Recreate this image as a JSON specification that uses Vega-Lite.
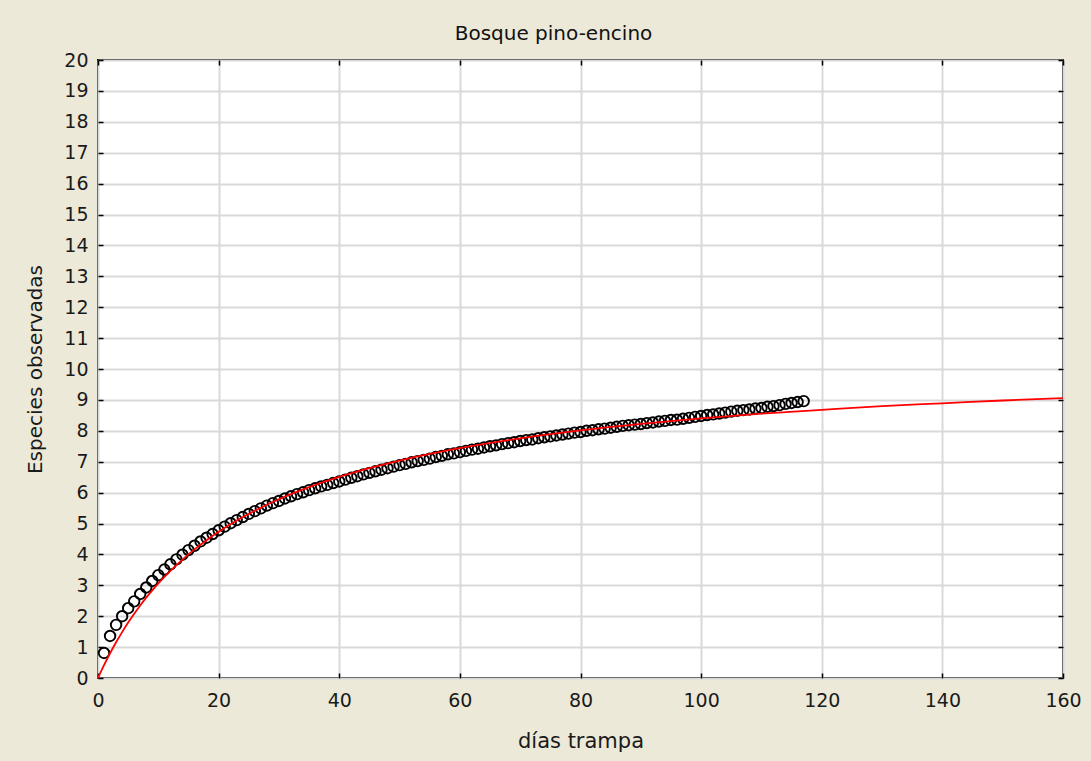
{
  "$schema": "https://vega.github.io/schema/vega-lite/v6.json",
  "width": 965,
  "height": 618,
  "autosize": {"type": "none"},
  "padding": {"left": 98, "top": 60, "right": 28, "bottom": 83},
  "background": "#ECE9D8",
  "title": {"text": "Bosque pino-encino", "frame": "bounds", "anchor": "middle", "fontSize": 20, "font": "DejaVu Sans", "fontWeight": "normal", "color": "#111111", "offset": 7},
  "config": {
    "view": {"fill": "white", "stroke": "black", "strokeWidth": 2},
    "axis": {"labelFont": "DejaVu Sans", "titleFont": "DejaVu Sans", "labelFontSize": 19, "titleFontSize": 20, "titleFontWeight": "normal", "labelColor": "#1a1a1a", "titleColor": "#1a1a1a", "tickColor": "black", "tickWidth": 1.5, "gridColor": "#d9d9d9", "gridWidth": 2, "domain": false, "labelFlush": false, "labelOverlap": false}
  },
  "datasets": {
    "obs": [
      {"dias": 1, "especies": 0.81}, {"dias": 2, "especies": 1.36}, {"dias": 3, "especies": 1.72}, {"dias": 4, "especies": 2.0}, {"dias": 5, "especies": 2.26},
      {"dias": 6, "especies": 2.48}, {"dias": 7, "especies": 2.72}, {"dias": 8, "especies": 2.93}, {"dias": 9, "especies": 3.14}, {"dias": 10, "especies": 3.33},
      {"dias": 11, "especies": 3.51}, {"dias": 12, "especies": 3.68}, {"dias": 13, "especies": 3.84}, {"dias": 14, "especies": 3.99}, {"dias": 15, "especies": 4.14},
      {"dias": 16, "especies": 4.28}, {"dias": 17, "especies": 4.42}, {"dias": 18, "especies": 4.54}, {"dias": 19, "especies": 4.66}, {"dias": 20, "especies": 4.78},
      {"dias": 21, "especies": 4.9}, {"dias": 22, "especies": 5.01}, {"dias": 23, "especies": 5.11}, {"dias": 24, "especies": 5.21}, {"dias": 25, "especies": 5.31},
      {"dias": 26, "especies": 5.4}, {"dias": 27, "especies": 5.49}, {"dias": 28, "especies": 5.58}, {"dias": 29, "especies": 5.66}, {"dias": 30, "especies": 5.73},
      {"dias": 31, "especies": 5.81}, {"dias": 32, "especies": 5.88}, {"dias": 33, "especies": 5.95}, {"dias": 34, "especies": 6.01}, {"dias": 35, "especies": 6.08},
      {"dias": 36, "especies": 6.14}, {"dias": 37, "especies": 6.2}, {"dias": 38, "especies": 6.25}, {"dias": 39, "especies": 6.31}, {"dias": 40, "especies": 6.36},
      {"dias": 41, "especies": 6.42}, {"dias": 42, "especies": 6.48}, {"dias": 43, "especies": 6.53}, {"dias": 44, "especies": 6.59}, {"dias": 45, "especies": 6.64},
      {"dias": 46, "especies": 6.69}, {"dias": 47, "especies": 6.74}, {"dias": 48, "especies": 6.79}, {"dias": 49, "especies": 6.84}, {"dias": 50, "especies": 6.89},
      {"dias": 51, "especies": 6.93}, {"dias": 52, "especies": 6.98}, {"dias": 53, "especies": 7.02}, {"dias": 54, "especies": 7.06}, {"dias": 55, "especies": 7.1},
      {"dias": 56, "especies": 7.15}, {"dias": 57, "especies": 7.19}, {"dias": 58, "especies": 7.24}, {"dias": 59, "especies": 7.27}, {"dias": 60, "especies": 7.31},
      {"dias": 61, "especies": 7.35}, {"dias": 62, "especies": 7.39}, {"dias": 63, "especies": 7.42}, {"dias": 64, "especies": 7.46}, {"dias": 65, "especies": 7.5},
      {"dias": 66, "especies": 7.53}, {"dias": 67, "especies": 7.57}, {"dias": 68, "especies": 7.6}, {"dias": 69, "especies": 7.63}, {"dias": 70, "especies": 7.67},
      {"dias": 71, "especies": 7.7}, {"dias": 72, "especies": 7.72}, {"dias": 73, "especies": 7.76}, {"dias": 74, "especies": 7.79}, {"dias": 75, "especies": 7.82},
      {"dias": 76, "especies": 7.85}, {"dias": 77, "especies": 7.88}, {"dias": 78, "especies": 7.91}, {"dias": 79, "especies": 7.94}, {"dias": 80, "especies": 7.96},
      {"dias": 81, "especies": 8.0}, {"dias": 82, "especies": 8.02}, {"dias": 83, "especies": 8.05}, {"dias": 84, "especies": 8.07}, {"dias": 85, "especies": 8.1},
      {"dias": 86, "especies": 8.13}, {"dias": 87, "especies": 8.16}, {"dias": 88, "especies": 8.18}, {"dias": 89, "especies": 8.2}, {"dias": 90, "especies": 8.22},
      {"dias": 91, "especies": 8.25}, {"dias": 92, "especies": 8.27}, {"dias": 93, "especies": 8.3}, {"dias": 94, "especies": 8.32}, {"dias": 95, "especies": 8.35},
      {"dias": 96, "especies": 8.36}, {"dias": 97, "especies": 8.39}, {"dias": 98, "especies": 8.42}, {"dias": 99, "especies": 8.45}, {"dias": 100, "especies": 8.48},
      {"dias": 101, "especies": 8.51}, {"dias": 102, "especies": 8.53}, {"dias": 103, "especies": 8.56}, {"dias": 104, "especies": 8.59}, {"dias": 105, "especies": 8.62},
      {"dias": 106, "especies": 8.65}, {"dias": 107, "especies": 8.67}, {"dias": 108, "especies": 8.69}, {"dias": 109, "especies": 8.72}, {"dias": 110, "especies": 8.74},
      {"dias": 111, "especies": 8.78}, {"dias": 112, "especies": 8.8}, {"dias": 113, "especies": 8.83}, {"dias": 114, "especies": 8.87}, {"dias": 115, "especies": 8.9},
      {"dias": 116, "especies": 8.93}, {"dias": 117, "especies": 8.96}
    ],
    "fit": [
      {"dias": 0, "especies": 0}, {"dias": 1, "especies": 0.416}, {"dias": 2, "especies": 0.8}, {"dias": 3, "especies": 1.155}, {"dias": 4, "especies": 1.485},
      {"dias": 5, "especies": 1.793}, {"dias": 6, "especies": 2.08}, {"dias": 7, "especies": 2.349}, {"dias": 8, "especies": 2.6}, {"dias": 9, "especies": 2.837},
      {"dias": 10, "especies": 3.06}, {"dias": 12, "especies": 3.468}, {"dias": 14, "especies": 3.833}, {"dias": 16, "especies": 4.162}, {"dias": 18, "especies": 4.46},
      {"dias": 20, "especies": 4.731}, {"dias": 23, "especies": 5.094}, {"dias": 26, "especies": 5.413}, {"dias": 30, "especies": 5.784}, {"dias": 35, "especies": 6.176},
      {"dias": 40, "especies": 6.508}, {"dias": 45, "especies": 6.791}, {"dias": 50, "especies": 7.037}, {"dias": 55, "especies": 7.251}, {"dias": 60, "especies": 7.439},
      {"dias": 70, "especies": 7.757}, {"dias": 80, "especies": 8.013}, {"dias": 90, "especies": 8.224}, {"dias": 100, "especies": 8.402}, {"dias": 110, "especies": 8.553},
      {"dias": 120, "especies": 8.68}, {"dias": 130, "especies": 8.8}, {"dias": 140, "especies": 8.89}, {"dias": 150, "especies": 8.98}, {"dias": 160, "especies": 9.06}
    ]
  },
  "layer": [
    {
      "data": {"name": "obs"},
      "mark": {"type": "point", "shape": "circle", "filled": false, "stroke": "black", "strokeWidth": 1.9, "size": 110, "opacity": 1},
      "encoding": {
        "x": {"field": "dias", "type": "quantitative", "scale": {"domain": [0, 160], "nice": false, "zero": false},
              "axis": {"orient": "bottom", "values": [0, 20, 40, 60, 80, 100, 120, 140, 160], "grid": true, "tickSize": -5, "labelPadding": 18, "title": "días trampa", "titleFontSize": 21, "titlePadding": 20}},
        "y": {"field": "especies", "type": "quantitative", "scale": {"domain": [0, 20], "nice": false, "zero": false},
              "axis": {"orient": "left", "values": [0,1,2,3,4,5,6,7,8,9,10,11,12,13,14,15,16,17,18,19,20], "grid": true, "tickSize": -5, "labelPadding": 15, "title": "Especies observadas", "titlePadding": 18}}
      }
    },
    {
      "data": {"name": "fit"},
      "mark": {"type": "line", "color": "#ff0000", "strokeWidth": 1.8, "interpolate": "monotone"},
      "encoding": {
        "x": {"field": "dias", "type": "quantitative", "scale": {"domain": [0, 160], "nice": false, "zero": false},
              "axis": {"orient": "top", "values": [0, 20, 40, 60, 80, 100, 120, 140, 160], "grid": false, "labels": false, "tickSize": -5, "title": null}},
        "y": {"field": "especies", "type": "quantitative", "scale": {"domain": [0, 20], "nice": false, "zero": false},
              "axis": {"orient": "right", "values": [0,1,2,3,4,5,6,7,8,9,10,11,12,13,14,15,16,17,18,19,20], "grid": false, "labels": false, "tickSize": -5, "title": null}}
      }
    }
  ],
  "resolve": {"axis": {"x": "independent", "y": "independent"}}
}
